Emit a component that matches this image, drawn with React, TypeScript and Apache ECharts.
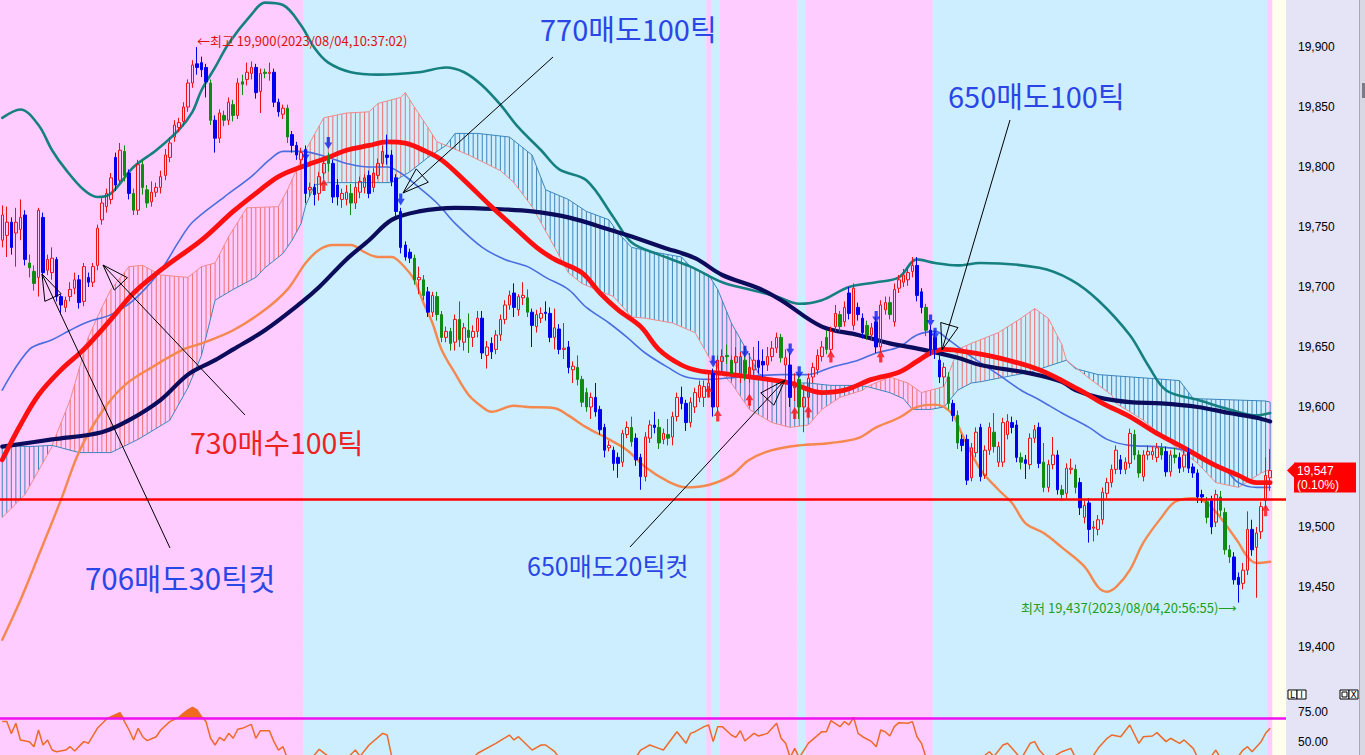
import React, { useEffect, useRef } from "react";
import * as echarts from "echarts";

const SLOT_COUNT = 284;
const slots = Array.from({ length: SLOT_COUNT }, (_, i) => String(i));

const openP = [
  19739,19743,19754,19745,19748,19760,19720,19713,19708,19758,
  19714,19712,19723,19692,19683,19692,19699,19706,19688,19708,
  19704,19718,19756,19767,19773,19808,19789,19813,19795,19778,
  19764,19802,19781,19771,19779,19783,19793,19808,19825,19833,
  19838,19850,19870,19886,19887,19883,19870,19839,19824,19843,
  19839,19852,19843,19871,19873,19878,19883,19863,19879,19878,
  19879,19854,19844,19849,19827,19818,19806,19814,19781,19783,
  19778,19795,19808,19803,19785,19773,19773,19778,19770,19779,
  19783,19793,19783,19793,19803,19810,19810,19791,19763,19735,
  19729,19724,19706,19706,19696,19679,19692,19677,19658,19663,
  19654,19673,19654,19664,19658,19663,19674,19643,19653,19648,
  19660,19673,19685,19695,19681,19691,19691,19679,19667,19674,
  19679,19678,19658,19665,19648,19650,19631,19633,19623,19612,
  19600,19608,19598,19583,19566,19564,19558,19554,19577,19583,
  19574,19558,19542,19574,19585,19583,19573,19577,19575,19592,
  19608,19603,19587,19600,19608,19608,19614,19628,19600,19638,
  19643,19639,19637,19625,19639,19625,19631,19639,19638,19635,
  19642,19649,19658,19635,19635,19616,19623,19600,19608,19625,
  19631,19642,19658,19648,19667,19677,19671,19695,19668,19683,
  19674,19668,19660,19671,19650,19681,19687,19671,19699,19704,
  19706,19713,19718,19696,19683,19664,19658,19639,19625,19625,
  19603,19593,19573,19573,19541,19562,19583,19543,19564,19579,
  19554,19554,19577,19587,19585,19558,19556,19552,19574,19583,
  19554,19533,19552,19560,19531,19528,19548,19548,19537,19508,
  19520,19499,19498,19506,19528,19537,19548,19556,19548,19553,
  19577,19560,19542,19560,19560,19558,19566,19563,19546,19560,
  19558,19550,19562,19550,19545,19527,19521,19522,19504,19525,
  19512,19481,19475,19458,19453,19464,19498,19483,19496,19522,
  19541
];
const closeP = [
  19760,19754,19733,19754,19758,19723,19716,19703,19764,19712,
  19723,19724,19692,19685,19689,19698,19706,19687,19717,19704,
  19717,19749,19770,19778,19791,19785,19814,19793,19778,19764,
  19802,19783,19770,19779,19783,19792,19810,19820,19835,19837,
  19850,19870,19885,19883,19881,19871,19839,19824,19845,19839,
  19854,19843,19870,19869,19879,19883,19862,19878,19878,19879,
  19854,19846,19849,19825,19818,19810,19812,19778,19783,19777,
  19792,19803,19803,19775,19775,19778,19779,19770,19783,19788,
  19791,19778,19795,19803,19813,19808,19788,19763,19733,19725,
  19724,19706,19708,19693,19679,19693,19677,19658,19663,19653,
  19673,19656,19666,19658,19663,19674,19645,19650,19646,19660,
  19673,19685,19693,19683,19692,19693,19679,19668,19677,19678,
  19678,19658,19666,19648,19649,19633,19634,19623,19604,19600,
  19608,19596,19581,19564,19568,19553,19553,19578,19583,19571,
  19556,19542,19575,19585,19583,19570,19578,19574,19592,19608,
  19603,19587,19604,19612,19618,19617,19620,19600,19639,19642,
  19642,19628,19642,19642,19628,19633,19639,19633,19635,19642,
  19649,19658,19641,19641,19608,19621,19600,19608,19624,19633,
  19643,19650,19648,19663,19678,19667,19683,19678,19699,19677,
  19662,19660,19666,19650,19685,19687,19677,19698,19706,19710,
  19712,19718,19693,19683,19664,19648,19648,19625,19633,19603,
  19593,19570,19568,19539,19566,19579,19542,19564,19583,19567,
  19567,19587,19588,19583,19558,19554,19553,19574,19581,19553,
  19533,19552,19560,19531,19527,19549,19549,19533,19516,19518,
  19498,19500,19506,19529,19537,19548,19564,19548,19554,19578,
  19560,19545,19560,19563,19563,19566,19560,19546,19560,19558,
  19549,19560,19549,19545,19525,19525,19508,19500,19527,19514,
  19481,19475,19456,19452,19464,19498,19481,19495,19517,19543,
  19547
];
const lowP = [
  19733,19725,19727,19717,19739,19718,19708,19697,19692,19706,
  19710,19706,19688,19677,19679,19688,19694,19682,19684,19700,
  19700,19714,19752,19762,19769,19780,19785,19788,19773,19760,
  19760,19777,19766,19767,19775,19778,19789,19804,19821,19829,
  19834,19846,19866,19877,19875,19858,19835,19812,19820,19834,
  19835,19838,19840,19860,19868,19873,19857,19845,19874,19872,
  19850,19842,19840,19820,19812,19806,19800,19770,19775,19768,
  19772,19790,19796,19770,19768,19766,19768,19760,19765,19774,
  19778,19774,19779,19790,19800,19802,19784,19758,19728,19722,
  19720,19702,19694,19689,19675,19675,19672,19654,19654,19647,
  19647,19650,19647,19645,19650,19658,19640,19632,19640,19644,
  19655,19669,19681,19675,19676,19685,19675,19650,19662,19670,
  19672,19654,19648,19644,19640,19628,19620,19618,19600,19596,
  19590,19592,19577,19558,19563,19547,19541,19550,19574,19567,
  19551,19531,19538,19570,19578,19565,19569,19568,19568,19588,
  19598,19580,19583,19595,19604,19600,19608,19592,19596,19630,
  19636,19622,19625,19620,19622,19620,19626,19628,19625,19630,
  19638,19645,19637,19622,19600,19605,19590,19579,19600,19620,
  19627,19638,19644,19644,19663,19663,19667,19673,19664,19672,
  19657,19656,19655,19645,19646,19677,19673,19667,19695,19700,
  19701,19708,19688,19678,19659,19643,19640,19620,19617,19598,
  19588,19565,19563,19535,19538,19558,19538,19540,19560,19562,
  19550,19550,19573,19578,19554,19548,19540,19548,19570,19549,
  19529,19529,19548,19527,19522,19524,19544,19528,19510,19503,
  19487,19488,19493,19502,19524,19533,19544,19544,19544,19549,
  19556,19541,19538,19556,19556,19554,19556,19542,19542,19553,
  19545,19546,19545,19541,19520,19520,19503,19494,19500,19509,
  19477,19470,19452,19437,19448,19460,19476,19441,19490,19515,
  19530
];
const highP = [
  19768,19767,19758,19766,19773,19764,19727,19718,19766,19762,
  19727,19733,19725,19694,19692,19704,19712,19710,19720,19712,
  19720,19752,19774,19782,19795,19812,19820,19818,19798,19782,
  19806,19806,19785,19788,19787,19797,19815,19825,19839,19841,
  19854,19873,19889,19900,19892,19886,19873,19843,19848,19847,
  19858,19856,19874,19877,19887,19888,19886,19882,19882,19887,
  19882,19857,19852,19852,19830,19821,19816,19818,19787,19786,
  19796,19806,19812,19806,19790,19782,19785,19786,19787,19792,
  19794,19797,19799,19807,19818,19827,19814,19794,19766,19738,
  19732,19727,19717,19710,19700,19696,19696,19680,19667,19666,
  19677,19688,19670,19678,19668,19680,19680,19655,19658,19664,
  19677,19689,19697,19703,19694,19704,19698,19682,19681,19683,
  19688,19683,19682,19669,19670,19655,19638,19643,19626,19616,
  19612,19620,19601,19586,19572,19567,19562,19581,19588,19592,
  19578,19561,19579,19589,19596,19590,19582,19590,19596,19612,
  19617,19606,19608,19616,19622,19622,19628,19632,19643,19648,
  19652,19643,19650,19646,19650,19645,19650,19655,19648,19650,
  19655,19662,19661,19648,19645,19628,19627,19615,19628,19637,
  19648,19655,19664,19667,19685,19680,19688,19700,19703,19687,
  19678,19672,19670,19675,19689,19692,19692,19703,19710,19715,
  19717,19725,19725,19699,19686,19668,19663,19643,19637,19629,
  19606,19597,19577,19577,19570,19583,19586,19568,19587,19595,
  19571,19591,19594,19592,19589,19562,19560,19578,19585,19587,
  19570,19556,19575,19564,19535,19553,19557,19552,19541,19522,
  19524,19505,19510,19533,19541,19552,19568,19560,19558,19582,
  19581,19564,19564,19568,19567,19570,19570,19567,19564,19566,
  19562,19564,19566,19553,19548,19531,19525,19526,19531,19530,
  19516,19485,19479,19462,19470,19513,19506,19500,19521,19558,
  19565
];
const candleKind = (
  "RRBRRBGGRB" + "RRBBRRRBRB" + "RRRRRBRGBG" + "RGGRRRRRRR" + "RRRBBBGBRG" +
  "RGRGRRBRGR" + "BBRGBBRBRB" + "RRGBBRRGRR" + "RBRRRBBBBB" + "BGRGBRGGRG" +
  "RGRGRRBRBR" + "RRRBRRGBRR" + "BBRBRBRGGG" + "RBBBRBBRRG" + "BBRRBGRGRR" +
  "BBRRRRRBRR" + "GGRRGRRBBR" + "RRGRBRGRRR" + "RRGRRGRBRB" + "BGRBRRGRRR" +
  "RRBBGBBBRG" + "BGBBRRBRRG" + "RRRBBGBRRB" + "GRRBGRRGBR" + "BRRRRRRBRR" +
  "GGRRRRGBRG" + "BRBBBBGBRG" + "GGBBRRBRRR" + "R"
).split("");

const priceTicks = [19400, 19450, 19500, 19550, 19600, 19650, 19700, 19750, 19800, 19850, 19900];
const supportLevel = 19523;
const oscLevels = [50, 70, 75];

const bbUpper = [[0,19841],[4,19848],[8,19835],[11,19814],[14,19798],[18,19781],[21,19775],[24,19778],[29,19800],[34,19814],[39,19831],[42,19846],[44,19864],[47,19883],[50,19903],[55,19927],[58,19937],[62,19935],[66,19918],[69,19899],[72,19887],[77,19879],[83,19877],[92,19879],[98,19883],[102,19879],[106,19868],[110,19852],[114,19833],[119,19814],[123,19798],[129,19789],[135,19758],[139,19737],[145,19727],[152,19717],[159,19704],[165,19698],[171,19692],[176,19686],[181,19689],[187,19700],[193,19704],[198,19708],[202,19723],[206,19720],[211,19718],[216,19720],[229,19716],[236,19706],[242,19689],[249,19660],[253,19635],[257,19614],[264,19606],[271,19598],[277,19593],[280,19595]];
const bbLower = [[0,19406],[4,19439],[8,19476],[13,19523],[17,19563],[22,19596],[27,19618],[33,19633],[40,19648],[44,19653],[51,19664],[58,19681],[63,19698],[67,19720],[70,19731],[73,19735],[77,19735],[80,19729],[83,19725],[86,19725],[88,19720],[91,19706],[93,19687],[95,19670],[97,19648],[100,19628],[103,19610],[106,19600],[108,19596],[113,19601],[116,19600],[122,19599],[125,19593],[129,19583],[134,19573],[138,19564],[142,19550],[147,19538],[151,19533],[156,19535],[161,19543],[165,19556],[170,19564],[176,19568],[183,19570],[189,19574],[193,19583],[198,19591],[202,19600],[206,19602],[208,19600],[210,19593],[212,19577],[216,19548],[220,19531],[223,19520],[226,19503],[230,19495],[234,19483],[239,19467],[242,19450],[244,19446],[246,19450],[249,19464],[252,19487],[256,19508],[259,19521],[263,19524],[266,19520],[269,19508],[273,19487],[275,19475],[277,19470],[280,19471]];
const ma20 = [[0,19614],[6,19648],[11,19656],[15,19664],[19,19671],[24,19677],[29,19689],[35,19714],[39,19738],[42,19754],[49,19775],[55,19792],[59,19806],[62,19813],[66,19813],[72,19808],[76,19803],[81,19800],[85,19800],[88,19795],[92,19783],[96,19770],[100,19753],[106,19733],[111,19723],[116,19717],[120,19708],[125,19698],[129,19683],[134,19670],[138,19658],[142,19645],[147,19633],[151,19625],[156,19623],[163,19625],[172,19627],[178,19627],[183,19633],[189,19639],[193,19645],[198,19650],[202,19660],[206,19663],[209,19656],[214,19642],[220,19627],[225,19614],[229,19606],[234,19595],[240,19583],[244,19573],[249,19568],[255,19567],[261,19564],[265,19558],[270,19548],[273,19537],[277,19533],[280,19533]];
const ma60 = [[0,19556],[4,19585],[8,19610],[13,19631],[18,19648],[24,19673],[29,19695],[36,19717],[44,19739],[51,19763],[57,19781],[61,19792],[66,19800],[72,19808],[76,19814],[81,19818],[85,19821],[89,19820],[93,19814],[97,19806],[102,19789],[108,19767],[113,19750],[118,19733],[122,19723],[128,19712],[132,19695],[136,19681],[141,19667],[145,19648],[150,19635],[154,19630],[159,19628],[167,19624],[174,19620],[181,19612],[186,19614],[192,19623],[198,19629],[202,19638],[205,19645],[208,19648],[213,19646],[220,19641],[229,19631],[238,19614],[243,19603],[249,19592],[255,19578],[261,19566],[267,19553],[273,19543],[277,19537],[280,19537]];
const ma120 = [[0,19567],[11,19573],[22,19579],[28,19589],[35,19606],[41,19627],[47,19639],[51,19648],[58,19664],[66,19687],[70,19700],[76,19723],[81,19739],[86,19756],[92,19763],[100,19766],[109,19765],[117,19763],[125,19758],[134,19748],[139,19742],[146,19733],[153,19724],[159,19710],[167,19699],[172,19689],[181,19667],[189,19660],[196,19653],[203,19648],[211,19641],[216,19635],[227,19628],[234,19621],[237,19614],[242,19608],[249,19604],[256,19603],[264,19600],[271,19595],[277,19591],[280,19588]];

const cloudTop1 = [[0,19568],[6,19567],[11,19568]];
const cloudBot1 = [[0,19508],[5,19527],[11,19567]];
const cloudTop2 = [[11,19568],[15,19606],[19,19658],[22,19683],[24,19698],[28,19717],[31,19718],[35,19710],[41,19708],[44,19717],[47,19720],[50,19742],[54,19766],[61,19767],[63,19781],[65,19798],[67,19814],[71,19841],[76,19845],[81,19846],[83,19853],[88,19858],[89,19862],[91,19850],[94,19833],[96,19821],[98,19818]];
const cloudBot2 = [[11,19568],[17,19562],[24,19562],[30,19573],[37,19589],[41,19616],[44,19643],[47,19689],[51,19698],[56,19708],[58,19716],[62,19728],[64,19739],[66,19753],[67,19768],[69,19785],[72,19787],[86,19787],[90,19796],[94,19808],[98,19818]];
const cloudTop3 = [[98,19818],[100,19828],[105,19828],[112,19825],[117,19810],[120,19781],[125,19773],[129,19763],[134,19756],[136,19745],[139,19733],[144,19729],[150,19725],[152,19717],[156,19710],[158,19698],[161,19670],[164,19650],[167,19628],[171,19620],[178,19620],[183,19618],[189,19618],[191,19617]];
const cloudBot3 = [[98,19818],[103,19810],[110,19797],[113,19787],[117,19767],[122,19733],[125,19712],[128,19703],[131,19698],[135,19692],[139,19675],[142,19674],[148,19670],[153,19662],[156,19642],[159,19627],[161,19620],[165,19598],[170,19587],[174,19583],[178,19585],[181,19598],[185,19608],[190,19614],[191,19617]];
const cloudTop4 = [[191,19617],[196,19625],[200,19620],[203,19612],[208,19617],[211,19648],[214,19653],[216,19656],[220,19662],[225,19674],[228,19682],[231,19674],[234,19652],[235,19639]];
const cloudBot4 = [[191,19617],[196,19612],[199,19607],[201,19598],[205,19598],[208,19600],[211,19614],[214,19620],[216,19621],[220,19624],[227,19629],[231,19634],[235,19639]];
const cloudTop5 = [[235,19639],[237,19632],[242,19627],[253,19624],[260,19622],[263,19607],[279,19605],[280,19604]];
const cloudBot5 = [[235,19639],[240,19624],[245,19610],[246,19603],[252,19589],[258,19570],[264,19553],[268,19537],[273,19533],[278,19545],[280,19548]];

const oscValues = [[0,67],[1,67],[2,57],[3,65.6],[4,51.7],[6,50.3],[7,46.1],[8,60],[9,47.5],[10,51.7],[11,43.3],[12,41.9],[14,43.3],[15,46.1],[16,42.5],[18,50.3],[19,48.9],[21,61.4],[23,68.9],[24,71.1],[26,74.5],[27,67],[28,60],[29,51.7],[30,61.4],[31,54.4],[32,51.1],[34,54.4],[35,60],[37,67],[39,70.6],[40,73.9],[41,76.7],[42,78.9],[43,76.7],[44,71.1],[45,67],[46,53.1],[47,47.5],[48,53.9],[49,51.1],[50,57.2],[51,53.1],[52,60.6],[53,61.4],[55,64.7],[56,53.1],[57,59.4],[59,59.4],[60,50.3],[61,43.3],[62,46.1],[63,36],[64,33],[66,28],[68,35],[70,43.9],[72,38],[74,30],[76,36],[78,43.3],[79,38],[81,47.5],[84,57.2],[85,55.8],[86,38],[88,30],[92,22],[96,28],[100,25],[103,33],[105,40.6],[109,48.9],[112,55.8],[113,51.7],[114,54.4],[117,43.3],[119,47.5],[120,47.5],[122,41.9],[123,37],[125,30],[128,22],[132,26],[136,20],[139,32],[141,43.3],[143,47.5],[145,44.7],[146,43.3],[149,58.6],[151,48.9],[152,57.2],[153,58.6],[155,62.8],[156,64.2],[157,50.3],[158,62.8],[159,62.8],[161,55.8],[162,53.9],[163,59.4],[164,50.8],[166,57.2],[167,55],[169,57.2],[171,65.6],[172,53.1],[173,48.9],[174,37],[175,44.7],[176,37],[178,48.9],[181,58.6],[182,58.6],[183,67.8],[185,62.8],[186,67],[187,64.2],[188,70.6],[189,57.2],[190,54.4],[192,50.3],[193,46.1],[194,60],[195,58.6],[196,55],[197,62.8],[198,66.1],[200,65.6],[201,67],[202,54.4],[203,48.9],[204,37],[206,30],[208,22],[212,28],[215,33],[218,41.9],[219,38],[221,47.5],[222,48.9],[223,44.7],[225,36],[227,48.9],[228,50.3],[229,43.3],[231,35],[234,41.9],[236,44.7],[237,37],[240,33],[242,44.7],[244,53.1],[245,55.8],[247,54.4],[249,64.2],[251,48.9],[252,54.4],[254,55],[255,57.8],[257,50.3],[258,53.1],[260,48.9],[261,51.7],[263,44.7],[264,37],[266,33],[268,43.3],[269,37],[271,30],[272,33],[274,43.3],[275,46.1],[276,41.9],[278,50.3],[279,57.2],[280,61.4]];

const sellSignals = [[67,19810],[72,19820],[88,19773],[157,19638],[164,19646],[174,19648],[176,19629],[193,19675],[205,19672],[206,19661]];
const buySignals = [[71,19785],[156,19613],[158,19593],[165,19606],[175,19595],[178,19596],[183,19642],[194,19642],[279,19514]];

const bandStart = [0, 67, 156, 157, 159, 176, 178, 206, 280, 281];
const bandEnd = [66, 155, 156, 158, 175, 177, 205, 279, 280, 283];
const bandKind = [0, 1, 0, 1, 0, 1, 0, 1, 0, 2];

const BAND_COLORS = ["#ffccff", "#cceeff", "#ffffee"];
const KIND_STYLE: any = {
  R: { fill: "transparent", line: "#ee1111" },
  B: { fill: "#0000ee", line: "#0000ee" },
  G: { fill: "#118a11", line: "#118a11" },
};
const PINK_LINE = "#f08a8a";
const BLUE_LINE = "#3c86bd";
const RED_HATCH = "#ee7070";
const BLUE_HATCH = "#3f86bb";

const cloudSegments = [
  { kind: 1, top: cloudTop1, bot: cloudBot1 },
  { kind: 0, top: cloudTop2, bot: cloudBot2 },
  { kind: 1, top: cloudTop3, bot: cloudBot3 },
  { kind: 0, top: cloudTop4, bot: cloudBot4 },
  { kind: 1, top: cloudTop5, bot: cloudBot5 },
];

const DOWN_ARROW = "path://M3,0 L7,0 L7,5 L10,5 L5,11 L0,5 L3,5 Z";
const UP_ARROW = "path://M5,0 L10,6 L7,6 L7,11 L3,11 L3,6 L0,6 Z";

function bandRender(params: any, api: any) {
  const s = api.value(0), e = api.value(1), k = api.value(2);
  const w = api.size([1, 0])[0];
  const xa = api.coord([s, 0])[0] - w / 2;
  const xb = api.coord([e, 0])[0] + w / 2;
  const cs = params.coordSys;
  return {
    type: "rect",
    shape: { x: xa, y: cs.y, width: xb - xa, height: cs.height },
    style: { fill: BAND_COLORS[k] },
  };
}

function interp(pts: number[][], x: number) {
  for (let k = 0; k < pts.length - 1; k++) {
    const a = pts[k], b = pts[k + 1];
    if (x >= a[0] - 0.01 && x <= b[0] + 0.01) {
      const t = b[0] === a[0] ? 0 : (x - a[0]) / (b[0] - a[0]);
      return a[1] + t * (b[1] - a[1]);
    }
  }
  return null;
}

function cloudRender(params: any, api: any) {
  const seg = cloudSegments[params.dataIndex];
  const tp = seg.top.map((p) => api.coord(p));
  const bp = seg.bot.map((p) => api.coord(p));
  const hatch = seg.kind === 0 ? RED_HATCH : BLUE_HATCH;
  const topColor = seg.kind === 0 ? PINK_LINE : BLUE_LINE;
  const botColor = seg.kind === 0 ? BLUE_LINE : PINK_LINE;
  const children: any[] = [];
  const i0 = Math.ceil(seg.top[0][0]);
  const i1 = Math.floor(seg.top[seg.top.length - 1][0]);
  for (let j = i0; j <= i1; j++) {
    const x = api.coord([j, seg.top[0][1]])[0];
    const y1 = interp(tp, x);
    const y2 = interp(bp, x);
    if (y1 != null && y2 != null) {
      children.push({
        type: "line",
        shape: { x1: x, y1, x2: x, y2 },
        style: { stroke: hatch, lineWidth: 1, fill: "none" },
      });
    }
  }
  children.push({ type: "polyline", shape: { points: tp }, style: { stroke: topColor, lineWidth: 1, fill: "none" } });
  children.push({ type: "polyline", shape: { points: bp }, style: { stroke: botColor, lineWidth: 1, fill: "none" } });
  return { type: "group", children };
}

function arrowHead(fx: number, fy: number, tx: number, ty: number, len = 26, half = 9) {
  const dx = tx - fx, dy = ty - fy;
  const L = Math.hypot(dx, dy);
  const ux = dx / L, uy = dy / L;
  const bx = tx - ux * len, by = ty - uy * len;
  const px = -uy, py = ux;
  return [[tx, ty], [bx + px * half, by + py * half], [bx - px * half, by - py * half]];
}

const fmt = (v: number) => v.toLocaleString("en-US");

function lineSeries(name: string, data: number[][], color: string, width: number, z: number) {
  return {
    name, type: "line", xAxisIndex: 0, yAxisIndex: 0, data, smooth: 0.35,
    symbol: "none", showSymbol: false, silent: true, z,
    lineStyle: { color, width, cap: "round", join: "round" },
  };
}

export default function App() {
  const ref = useRef<HTMLDivElement>(null);
  useEffect(() => {
    document.body.style.margin = "0";
    const chart = echarts.init(ref.current!, null, { renderer: "svg" });

    const lastClose = closeP[closeP.length - 1];
    const candleData = openP.map((o, i) => {
      const k = KIND_STYLE[candleKind[i]];
      return {
        value: [o, closeP[i], lowP[i], highP[i]],
        itemStyle: { color: k.fill, color0: k.fill, borderColor: k.line, borderColor0: k.line, borderColorDoji: k.line },
      };
    });
    const bandData = bandStart.map((s, i) => [s, bandEnd[i], bandKind[i]]);
    const obLevel = oscLevels[1];

    const option: any = {
      animation: false,
      backgroundColor: "#e4e4f6",
      grid: [
        { left: 0, top: 0, width: 1286, height: 688 },
        { left: 0, top: 688, width: 1286, height: 114 },
      ],
      xAxis: [
        { type: "category", gridIndex: 0, data: slots, boundaryGap: true, show: false },
        { type: "category", gridIndex: 1, data: slots, boundaryGap: true, show: false },
      ],
      yAxis: [
        {
          type: "value", gridIndex: 0, position: "right", min: 19365.8, max: 19939.2,
          minInterval: priceTicks[1] - priceTicks[0], maxInterval: priceTicks[1] - priceTicks[0], splitNumber: 11,
          axisLine: { show: false }, axisTick: { show: false },
          axisLabel: {
            showMinLabel: false, showMaxLabel: false, margin: 12, color: "#000",
            fontSize: 12, fontFamily: "Liberation Sans",
            // the label under the current-price tag is covered by the tag
            formatter: (v: number) =>
              priceTicks.indexOf(Math.round(v)) >= 0 && Math.abs(v - lastClose) > 15 ? fmt(v) : "",
          },
          splitLine: { show: true, lineStyle: { color: "rgba(255,255,255,0.55)", width: 1 } },
        },
        {
          type: "value", gridIndex: 1, position: "right", min: 0, max: 95, interval: 25,
          axisLine: { show: false }, axisTick: { show: false },
          axisLabel: {
            showMaxLabel: false, margin: 12, color: "#000", fontSize: 12, fontFamily: "Liberation Sans",
            formatter: (v: number) => (v === oscLevels[0] || v === oscLevels[2] ? v.toFixed(2) : ""),
          },
          splitLine: { show: true, lineStyle: { color: "rgba(255,255,255,0.55)", width: 1 } },
        },
      ],
      series: [
        { type: "custom", name: "bands", xAxisIndex: 0, yAxisIndex: 0, data: bandData, renderItem: bandRender, silent: true, z: 0 },
        { type: "custom", name: "bands2", xAxisIndex: 1, yAxisIndex: 1, data: bandData, renderItem: bandRender, silent: true, z: 0 },
        {
          type: "custom", name: "cloud", xAxisIndex: 0, yAxisIndex: 0, silent: true, z: 1,
          data: cloudSegments.map((s, k) => [s.top[0][0], s.top[0][1], k]),
          renderItem: cloudRender,
        },
        lineSeries("bbUpper", bbUpper, "#168080", 2.6, 2),
        lineSeries("bbLower", bbLower, "#f5884e", 2.4, 2),
        lineSeries("ma20", ma20, "#4a6ee0", 1.6, 2),
        lineSeries("ma120", ma120, "#0c0c5c", 4.2, 2),
        lineSeries("ma60", ma60, "#ff1010", 4.8, 2),
        {
          type: "candlestick", name: "price", xAxisIndex: 0, yAxisIndex: 0, data: candleData,
          barWidth: 3, z: 3, silent: true,
          itemStyle: { borderWidth: 1 },
          markLine: {
            silent: true, symbol: ["none", "none"], label: { show: false },
            lineStyle: { color: "#ff0000", width: 2.5, type: "solid" },
            data: [{ yAxis: supportLevel }],
          },
        },
        {
          type: "scatter", name: "sell", xAxisIndex: 0, yAxisIndex: 0, data: sellSignals,
          symbol: DOWN_ARROW, symbolSize: [8, 12], itemStyle: { color: "#0a1ef0" }, z: 5, silent: true,
        },
        {
          type: "scatter", name: "buy", xAxisIndex: 0, yAxisIndex: 0, data: buySignals,
          symbol: UP_ARROW, symbolSize: [8, 12], itemStyle: { color: "#ff0a0a" }, z: 5, silent: true,
        },
        {
          type: "line", name: "obBase", xAxisIndex: 1, yAxisIndex: 1, stack: "ob", silent: true,
          data: oscValues.map(([i]) => [i, obLevel]), symbol: "none", lineStyle: { opacity: 0, width: 0 }, z: 2,
        },
        {
          type: "line", name: "obFill", xAxisIndex: 1, yAxisIndex: 1, stack: "ob", silent: true,
          data: oscValues.map(([i, v]) => [i, Math.max(v - obLevel, 0)]), symbol: "none",
          lineStyle: { opacity: 0, width: 0 }, areaStyle: { color: "#f06a20", opacity: 1 }, z: 2,
        },
        {
          type: "line", name: "osc", xAxisIndex: 1, yAxisIndex: 1, data: oscValues, symbol: "none", silent: true, z: 3,
          lineStyle: { color: "#ee6a2a", width: 1.5 },
          markLine: {
            silent: true, symbol: ["none", "none"], label: { show: false },
            lineStyle: { color: "#ee10ee", width: 2.5, type: "solid" },
            data: [{ yAxis: obLevel }],
          },
        },
      ],
    };
    chart.setOption(option);

    const hiVal = Math.max(...highP);
    const hiIdx = highP.indexOf(hiVal);
    const loVal = Math.min(...lowP);
    const loIdx = lowP.indexOf(loVal);
    const hiPt = chart.convertToPixel({ xAxisIndex: 0, yAxisIndex: 0 }, [hiIdx, hiVal]);
    const loPt = chart.convertToPixel({ xAxisIndex: 0, yAxisIndex: 0 }, [loIdx, loVal]);
    const tagY = chart.convertToPixel({ xAxisIndex: 0, yAxisIndex: 0 }, [closeP.length - 1, lastClose])[1];

    const BLUE_TXT = "#2a46e6";
    const RED_TXT = "#ee2222";
    const notes = [
      { text: "770매도100틱", color: BLUE_TXT, size: 29, x: 540, y: 28, from: [553, 57], to: [403, 193] },
      { text: "650매도100틱", color: BLUE_TXT, size: 29, x: 948, y: 95, from: [1010, 120], to: [942, 350] },
      { text: "730매수100틱", color: RED_TXT, size: 28.5, x: 190, y: 441, from: [245, 415], to: [103, 265] },
      { text: "706매도30틱컷", color: BLUE_TXT, size: 29.5, x: 85, y: 577, from: [170, 548], to: [42, 274] },
      { text: "650매도20틱컷", color: BLUE_TXT, size: 25, x: 527, y: 565, from: [630, 547], to: [785, 380] },
    ];
    const g: any[] = [];
    notes.forEach((n) => {
      g.push({ type: "line", z: 50, shape: { x1: n.from[0], y1: n.from[1], x2: n.to[0], y2: n.to[1] }, style: { stroke: "#000", lineWidth: 1 } });
      g.push({ type: "polygon", z: 50, shape: { points: arrowHead(n.from[0], n.from[1], n.to[0], n.to[1]) }, style: { stroke: "#000", fill: "none", lineWidth: 1 } });
      g.push({
        type: "text", z: 50, x: n.x, y: n.y,
        style: { text: n.text, fill: n.color, fontSize: n.size, fontFamily: "Noto Sans CJK KR", textAlign: "left", textVerticalAlign: "middle" },
      });
    });
    g.push({
      type: "text", z: 50, x: hiPt[0], y: hiPt[1] - 7,
      style: { text: `←최고 ${fmt(hiVal)}(2023/08/04,10:37:02)`, fill: "#e01010", fontSize: 13, fontFamily: "Noto Sans CJK KR", textAlign: "left", textVerticalAlign: "middle" },
    });
    g.push({
      type: "text", z: 50, x: loPt[0] - 1, y: loPt[1] + 5,
      style: { text: `최저 ${fmt(loVal)}(2023/08/04,20:56:55)⟶`, fill: "#20a020", fontSize: 13, fontFamily: "Noto Sans CJK KR", textAlign: "right", textVerticalAlign: "middle" },
    });
    // current price tag
    g.push({ type: "polygon", z: 60, shape: { points: [[1287, tagY], [1294, tagY - 7], [1294, tagY + 7]] }, style: { fill: "#ff0000" } });
    g.push({ type: "rect", z: 60, shape: { x: 1294, y: tagY - 8, width: 62, height: 30 }, style: { fill: "#ff0000" } });
    g.push({ type: "text", z: 61, x: 1297, y: tagY, style: { text: fmt(lastClose), fill: "#fff", fontSize: 12, fontFamily: "Liberation Sans", textVerticalAlign: "middle" } });
    g.push({ type: "text", z: 61, x: 1297, y: tagY + 14, style: { text: "(0.10%)", fill: "#fff", fontSize: 12, fontFamily: "Liberation Sans", textVerticalAlign: "middle" } });
    // panel icons
    g.push({ type: "rect", z: 60, shape: { x: 1288, y: 690, width: 9, height: 9 }, style: { fill: "#fff", stroke: "#000", lineWidth: 1 } });
    g.push({ type: "rect", z: 60, shape: { x: 1297, y: 690, width: 9, height: 9 }, style: { fill: "#fff", stroke: "#000", lineWidth: 1 } });
    g.push({ type: "text", z: 61, x: 1292.5, y: 695, style: { text: "L", fill: "#000", fontSize: 9, fontFamily: "DejaVu Sans", textAlign: "center", textVerticalAlign: "middle" } });
    g.push({ type: "text", z: 61, x: 1301.5, y: 695, style: { text: "I", fill: "#000", fontSize: 9, fontFamily: "DejaVu Sans", textAlign: "center", textVerticalAlign: "middle" } });
    g.push({ type: "rect", z: 60, shape: { x: 1340, y: 690, width: 9, height: 9 }, style: { fill: "#fff", stroke: "#000", lineWidth: 1 } });
    g.push({ type: "rect", z: 60, shape: { x: 1349, y: 690, width: 9, height: 9 }, style: { fill: "#fff", stroke: "#000", lineWidth: 1 } });
    g.push({ type: "rect", z: 61, shape: { x: 1342, y: 692, width: 5, height: 5 }, style: { fill: "none", stroke: "#000", lineWidth: 1 } });
    g.push({ type: "text", z: 61, x: 1353.5, y: 695, style: { text: "X", fill: "#000", fontSize: 9, fontFamily: "DejaVu Sans", textAlign: "center", textVerticalAlign: "middle" } });
    // scrollbar strip
    g.push({ type: "rect", z: 60, shape: { x: 1359, y: 0, width: 6, height: 810 }, style: { fill: "#d8d8e4" } });
    g.push({ type: "line", z: 61, shape: { x1: 1359.5, y1: 0, x2: 1359.5, y2: 810 }, style: { stroke: "#a8a8b8", lineWidth: 1 } });
    g.push({ type: "rect", z: 61, shape: { x: 1362, y: 83, width: 3, height: 15 }, style: { fill: "#7a7a88" } });

    chart.setOption({ graphic: g });
    return () => chart.dispose();
  }, []);
  return <div ref={ref} style={{ position: "absolute", left: 0, top: 0, width: 1365, height: 810 }} />;
}
